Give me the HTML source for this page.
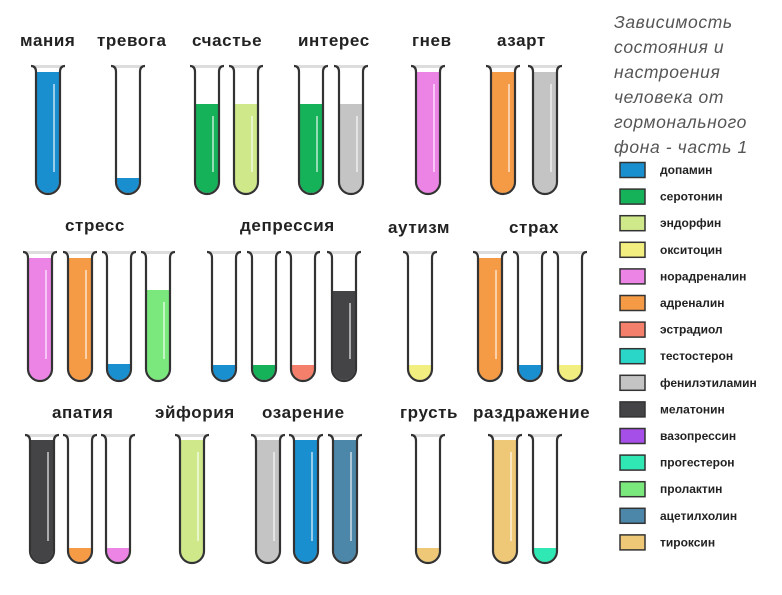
<!DOCTYPE html>
<html><head><meta charset="utf-8">
<style>
html,body{margin:0;padding:0;background:#fff;}
svg{display:block;}
.l{font-family:"Liberation Sans","DejaVu Sans",sans-serif;font-weight:bold;font-size:17px;letter-spacing:0.6px;fill:#222;}
.g{font-family:"Liberation Sans","DejaVu Sans",sans-serif;font-weight:bold;font-size:12px;fill:#222;}
.t{font-family:"Liberation Sans","DejaVu Sans",sans-serif;font-style:italic;font-size:17.5px;letter-spacing:0.6px;fill:#555;}
</style></head>
<body>
<svg id="s" width="782" height="595" viewBox="0 0 782 595" xmlns="http://www.w3.org/2000/svg">
<g class="l">
<text x="20" y="46">мания</text>
<text x="97" y="46">тревога</text>
<text x="192" y="46">счастье</text>
<text x="298" y="46">интерес</text>
<text x="412" y="46">гнев</text>
<text x="497" y="46">азарт</text>
<text x="65" y="231">стресс</text>
<text x="240" y="231">депрессия</text>
<text x="388" y="233">аутизм</text>
<text x="509" y="233">страх</text>
<text x="52" y="418">апатия</text>
<text x="155" y="418">эйфория</text>
<text x="262" y="418">озарение</text>
<text x="400" y="418">грусть</text>
<text x="473" y="418">раздражение</text>
</g>
<g class="t">
<text x="614" y="28">Зависимость</text>
<text x="614" y="53">состояния и</text>
<text x="614" y="78">настроения</text>
<text x="614" y="103">человека от</text>
<text x="614" y="128">гормонального</text>
<text x="614" y="153">фона - часть 1</text>
</g>
<g id="tubes"></g>
<g id="leg"></g>
</svg>
<script>
var C={dop:'#1a8fd0',ser:'#16b25a',end:'#cfe98a',oks:'#f2ee80',nor:'#ec84e6',adr:'#f59a45',est:'#f47f6a',tes:'#2ad6c8',fen:'#c4c4c4',mel:'#444447',vaz:'#a64ee8',pro:'#2fe8b4',prl:'#7ae87c',ace:'#4c86a8',tir:'#efc877'};
var tubes=[
[48,66,194,'dop',72],[128,66,194,'dop',178],[207,66,194,'ser',104],[246,66,194,'end',104],
[311,66,194,'ser',104],[351,66,194,'fen',104],[428,66,194,'nor',72],[503,66,194,'adr',72],[545,66,194,'fen',72],
[40,252,381,'nor',258],[80,252,381,'adr',258],[119,252,381,'dop',364],[158,252,381,'prl',290],
[224,252,381,'dop',365],[264,252,381,'ser',365],[303,252,381,'est',365],[344,252,381,'mel',291],
[420,252,381,'oks',365],[490,252,381,'adr',258],[530,252,381,'dop',365],[570,252,381,'oks',365],
[42,435,563,'mel',440],[80,435,563,'adr',548],[118,435,563,'nor',548],
[192,435,563,'end',440],
[268,435,563,'fen',440],[306,435,563,'dop',440],[345,435,563,'ace',440],
[428,435,563,'tir',548],[505,435,563,'tir',440],[545,435,563,'pro',548]
];
var h='';
tubes.forEach(function(t){
 var cx=t[0],top=t[1],bot=t[2],col=C[t[3]],fy=t[4],w=12,r=12;
 var l=cx-w,rr=cx+w,by=bot-r;
 h+='<path d="M'+(l+1)+' '+fy+' L'+(rr-1)+' '+fy+' L'+(rr-1)+' '+by+' A'+(w-1)+' '+(w-1)+' 0 0 1 '+(l+1)+' '+by+' Z" fill="'+col+'"/>';
 if(fy<by-40) h+='<line x1="'+(cx+6)+'" y1="'+(fy+12)+'" x2="'+(cx+6)+'" y2="'+(by-10)+'" stroke="rgba(255,255,255,0.55)" stroke-width="2"/>';
 h+='<rect x="'+(l-3)+'" y="'+(top-1)+'" width="'+(2*w+6)+'" height="3" fill="#ddd"/>';
 h+='<path d="M'+(l-5)+' '+top+' Q'+l+' '+top+' '+l+' '+(top+6)+' L'+l+' '+by+' A'+w+' '+w+' 0 0 0 '+rr+' '+by+' L'+rr+' '+(top+6)+' Q'+rr+' '+top+' '+(rr+5)+' '+top+'" fill="none" stroke="#333" stroke-width="2.2"/>';
});
document.getElementById('tubes').innerHTML=h;
var L=[['dop','допамин'],['ser','серотонин'],['end','эндорфин'],['oks','окситоцин'],['nor','норадреналин'],['adr','адреналин'],['est','эстрадиол'],['tes','тестостерон'],['fen','фенилэтиламин'],['mel','мелатонин'],['vaz','вазопрессин'],['pro','прогестерон'],['prl','пролактин'],['ace','ацетилхолин'],['tir','тироксин']];
var g='';
L.forEach(function(e,i){var y=170+i*26.6;
 g+='<rect x="620" y="'+(y-7.5)+'" width="25" height="15" fill="'+C[e[0]]+'" stroke="#333" stroke-width="1.5"/>';
 g+='<text class="g" x="660" y="'+(y+4)+'">'+e[1]+'</text>';});
document.getElementById('leg').innerHTML=g;
</script>
</body></html>
